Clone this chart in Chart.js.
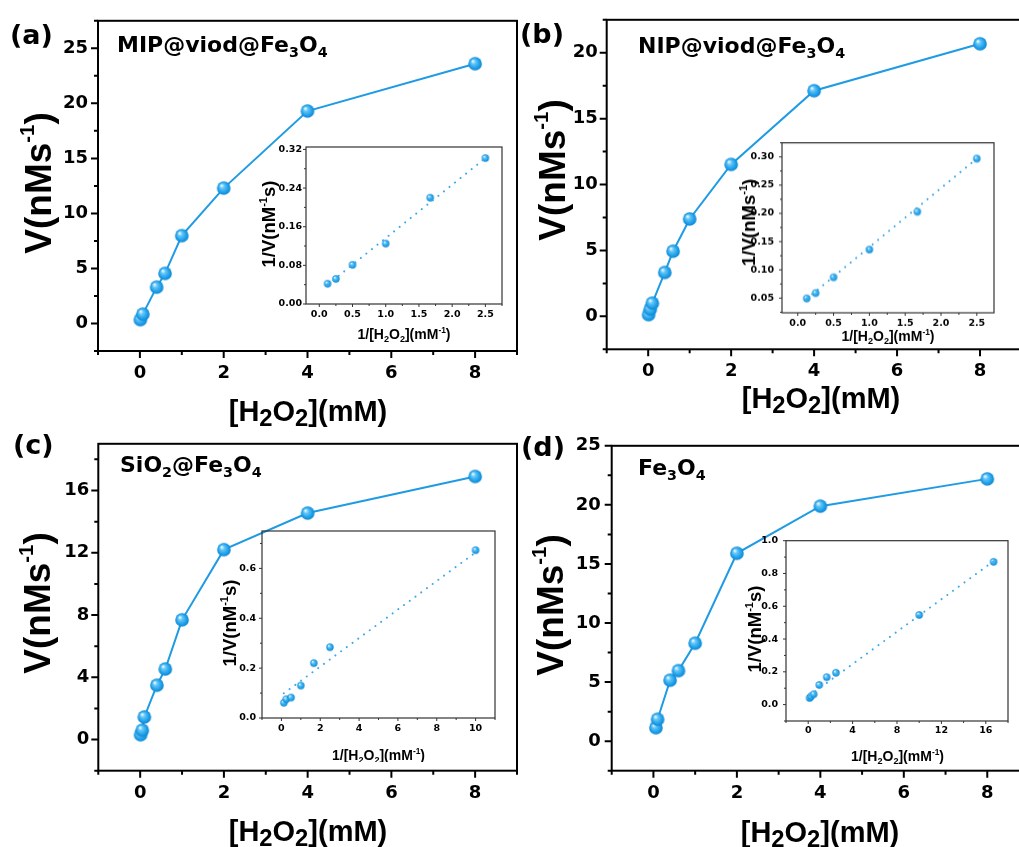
<!DOCTYPE html>
<html>
<head>
<meta charset="utf-8">
<script src="https://cdn.jsdelivr.net/npm/chart.js@4.4.1/dist/chart.umd.min.js"></script>
<style>
  html, body { margin: 0; padding: 0; background: #fff; overflow: hidden; width: 1019px; height: 847px; }
  #fig { position: relative; width: 1019px; height: 847px; overflow: hidden; background: #fff; }
  canvas { position: absolute; }
</style>
</head>
<body>
<div id="fig"></div>
<script>
// ---- main curves: V vs [H2O2] (mM) ----
const aConc = [0.01, 0.07, 0.4, 0.6, 1, 2, 4, 8];
const aRate = [0.35, 0.85, 3.3, 4.55, 7.98, 12.3, 19.3, 23.6];
const bConc = [0.01, 0.05, 0.1, 0.4, 0.6, 1, 2, 4, 8];
const bRate = [0.13, 0.55, 1.0, 3.33, 4.94, 7.39, 11.53, 17.12, 20.68];
const cConc = [0.01, 0.05, 0.1, 0.4, 0.6, 1, 2, 4, 8];
const cRate = [0.31, 0.6, 1.45, 3.49, 4.53, 7.69, 12.2, 14.55, 16.9];
const dConc = [0.06, 0.1, 0.4, 0.6, 1, 2, 4, 8];
const dRate = [1.14, 1.85, 5.16, 5.97, 8.29, 15.9, 19.89, 22.2];

// ---- insets: Lineweaver-Burk ----
const aInvC = [0.125, 0.25, 0.5, 1, 1.67, 2.5];
const aInvV = [0.042, 0.052, 0.081, 0.125, 0.22, 0.302];
const aFitX = [0.125, 2.5];
const aFitY = [0.040, 0.302];
const bInvC = [0.125, 0.25, 0.5, 1, 1.67, 2.5];
const bInvV = [0.0495, 0.059, 0.087, 0.136, 0.203, 0.297];
const bFitX = [0.125, 2.5];
const bFitY = [0.049, 0.297];
const cInvC = [0.125, 0.25, 0.5, 1, 1.67, 2.5, 10];
const cInvV = [0.061, 0.075, 0.082, 0.13, 0.22, 0.284, 0.673];
const cFitX = [0.125, 10];
const cFitY = [0.099, 0.664];
const dInvC = [0.125, 0.25, 0.5, 1, 1.67, 2.5, 10, 16.7];
const dInvV = [0.040, 0.050, 0.063, 0.12, 0.167, 0.194, 0.547, 0.871];
const dFitX = [0.125, 16.7];
const dFitY = [0.056, 0.875];

// ---- tick values / labels ----
const mainXTicks = [0, 2, 4, 6, 8];
const mainXLabels = ['0', '2', '4', '6', '8'];
const aYTicks = [0, 5, 10, 15, 20, 25];
const aYLabels = ['0', '5', '10', '15', '20', '25'];
const bYTicks = [0, 5, 10, 15, 20];
const bYLabels = ['0', '5', '10', '15', '20'];
const cYTicks = [0, 4, 8, 12, 16];
const cYLabels = ['0', '4', '8', '12', '16'];
const dYTicks = [0, 5, 10, 15, 20, 25];
const dYLabels = ['0', '5', '10', '15', '20', '25'];

const abInsetXTicks = [0, 0.5, 1, 1.5, 2, 2.5];
const abInsetXLabels = ['0.0', '0.5', '1.0', '1.5', '2.0', '2.5'];
const aInsetYTicks = [0, 0.08, 0.16, 0.24, 0.32];
const aInsetYLabels = ['0.00', '0.08', '0.16', '0.24', '0.32'];
const bInsetYTicks = [0.05, 0.10, 0.15, 0.20, 0.25, 0.30];
const bInsetYLabels = ['0.05', '0.10', '0.15', '0.20', '0.25', '0.30'];
const cInsetXTicks = [0, 2, 4, 6, 8, 10];
const cInsetXLabels = ['0', '2', '4', '6', '8', '10'];
const cInsetYTicks = [0, 0.2, 0.4, 0.6];
const cInsetYLabels = ['0.0', '0.2', '0.4', '0.6'];
const dInsetXTicks = [0, 4, 8, 12, 16];
const dInsetXLabels = ['0', '4', '8', '12', '16'];
const dInsetYTicks = [0, 0.2, 0.4, 0.6, 0.8, 1.0];
const dInsetYLabels = ['0.0', '0.2', '0.4', '0.6', '0.8', '1.0'];

const BLUE = '#1f9be4';
const TICKFONT = '"DejaVu Sans"';
const TITLEFONT = '"Liberation Sans", Arial';
const fig = document.getElementById('fig');

function ball(r) {
  const c = document.createElement('canvas');
  const s = Math.ceil(r * 2) + 2;
  c.width = c.height = s;
  const g = c.getContext('2d');
  const cx = s / 2, cy = s / 2;
  const grd = g.createRadialGradient(cx - r * 0.35, cy - r * 0.4, r * 0.05, cx, cy, r);
  grd.addColorStop(0, '#f2fbff');
  grd.addColorStop(0.3, '#62c6f8');
  grd.addColorStop(0.75, '#1e9ee8');
  grd.addColorStop(1, '#0e86d2');
  g.fillStyle = grd;
  g.beginPath();
  g.arc(cx, cy, r, 0, Math.PI * 2);
  g.fill();
  return c;
}
const bigBall = ball(6.8);
const smallBall = ball(3.7);

function pts(xs, ys) {
  return xs.map((x, i) => ({ x: x, y: ys[i] }));
}

function minors(vals, min, max) {
  const step = vals[1] - vals[0];
  const out = [];
  for (let v = vals[0] - step / 2; v >= min; v -= step) out.push(v);
  for (let v = vals[0] + step / 2; v <= max; v += step) out.push(v);
  return out;
}

// rich text: parts = [[text, kind]] kind 0 normal, 1 subscript, 2 superscript
function rich(ctx, t, ox, oy) {
  const F = t.size;
  const spec = k => k === 1 ? { s: F * (t.subS || 0.65), dy: F * (t.subD || 0.22) }
    : k === 2 ? { s: F * (t.supS || 0.6), dy: -F * (t.supD || 0.42) } : { s: F, dy: 0 };
  let w = 0;
  t.parts.forEach(p => {
    const s = spec(p[1] || 0);
    ctx.font = 'bold ' + s.s + 'px ' + t.fam;
    w += ctx.measureText(p[0]).width;
  });
  ctx.save();
  ctx.translate(t.x - ox, t.y - oy);
  if (t.rot) ctx.rotate(-Math.PI / 2);
  ctx.fillStyle = '#000';
  ctx.textAlign = 'left';
  ctx.textBaseline = 'alphabetic';
  let x = t.align === 'left' ? 0 : -w / 2;
  t.parts.forEach(p => {
    const s = spec(p[1] || 0);
    ctx.font = 'bold ' + s.s + 'px ' + t.fam;
    ctx.fillText(p[0], x, s.dy);
    x += ctx.measureText(p[0]).width;
  });
  ctx.restore();
}

function axis(min, max, vals, labels, font, pad, fit) {
  return {
    type: 'linear', min: min, max: max,
    afterBuildTicks: s => { s.ticks = vals.map(v => ({ value: v })); },
    afterFit: fit,
    grid: { display: false, drawTicks: false },
    border: { display: false },
    ticks: { autoSkip: false, maxRotation: 0, minRotation: 0, padding: pad, color: '#000', font: font,
      callback: (v, i) => labels[i] }
  };
}

function decor(o, cl, ct) {
  return {
    id: 'decor',
    beforeDatasetsDraw(chart) {
      const ctx = chart.ctx, a = chart.chartArea, x = chart.scales.x, y = chart.scales.y;
      ctx.save();
      ctx.strokeStyle = o.frameColor;
      ctx.lineWidth = o.frameW;
      ctx.strokeRect(a.left, a.top, a.right - a.left, a.bottom - a.top);
      ctx.lineWidth = o.tickW;
      ctx.beginPath();
      const tx = (v, len) => { const p = x.getPixelForValue(v); ctx.moveTo(p, a.bottom); ctx.lineTo(p, a.bottom + len); };
      const ty = (v, len) => { const p = y.getPixelForValue(v); ctx.moveTo(a.left, p); ctx.lineTo(a.left - len, p); };
      o.xTicks.forEach(v => tx(v, o.tickLen));
      o.yTicks.forEach(v => ty(v, o.tickLen));
      minors(o.xTicks, o.xMin, o.xMax).forEach(v => tx(v, o.minorLen));
      minors(o.yTicks, o.yMin, o.yMax).forEach(v => ty(v, o.minorLen));
      ctx.stroke();
      ctx.restore();
    },
    afterDraw(chart) {
      (o.texts || []).forEach(t => rich(chart.ctx, t, cl, ct));
    }
  };
}

function build(o) {
  const cv = document.createElement('canvas');
  const cl = o.rect[0], ct = o.rect[1], cw = o.rect[2], ch = o.rect[3];
  cv.width = cw; cv.height = ch;
  cv.style.left = cl + 'px'; cv.style.top = ct + 'px';
  cv.style.width = cw + 'px'; cv.style.height = ch + 'px';
  fig.appendChild(cv);
  const al = o.area[0], at = o.area[1], ar = o.area[2], ab = o.area[3];
  const padL = 2, padB = 2;
  const yW = al - cl - padL;
  const xH = (ct + ch) - ab - padB;
  new Chart(cv, {
    type: 'scatter',
    data: { datasets: o.datasets },
    options: {
      responsive: false, animation: false, devicePixelRatio: 1,
      layout: { padding: { left: padL, top: at - ct, right: (cl + cw) - ar, bottom: padB } },
      plugins: { legend: { display: false }, tooltip: { enabled: false } },
      scales: {
        x: axis(o.xMin, o.xMax, o.xTicks, o.xLabels, o.tickFont, o.xPad, s => { s.height = xH; }),
        y: axis(o.yMin, o.yMax, o.yTicks, o.yLabels, o.tickFont, o.yPad, s => { s.width = yW; })
      }
    },
    plugins: [decor(o, cl, ct)]
  });
}

function mainSet(xs, ys) {
  return [{ data: pts(xs, ys), showLine: true, borderColor: BLUE, borderWidth: 2,
    pointStyle: bigBall, pointRadius: 7, backgroundColor: BLUE }];
}
function insetSets(xs, ys, fx, fy) {
  return [
    { data: pts(fx, fy), showLine: true, borderColor: '#3aa8ea', borderWidth: 2, borderDash: [0.1, 7],
      borderCapStyle: 'round', pointRadius: 0 },
    { data: pts(xs, ys), showLine: false, pointStyle: smallBall, pointRadius: 4 }
  ];
}

const mainStyle = { frameColor: '#000', frameW: 2, tickW: 2, tickLen: 7, minorLen: 4,
  tickFont: { family: TICKFONT, size: 18, weight: 'bold' } };
const insetStyle = { frameColor: '#333', frameW: 1.2, tickW: 1, tickLen: 3, minorLen: 2,
  tickFont: { family: TICKFONT, size: 9.5, weight: 'bold' } };

const hTitle = [['[H'], ['2', 1], ['O'], ['2', 1], ['](mM)']];
const vTitle = [['V(nMs'], ['-1', 2], [')']];
const ivTitle = [['1/V(nM'], ['-1', 2], ['s)']];
const ivTitleB = [['1/V(nMs'], ['-1', 2], [')']];
const icTitle = [['1/[H'], ['2', 1], ['O'], ['2', 1], ['](mM'], ['-1', 2], [')']];

function mainTexts(p) {
  return [
    { parts: [[p.tag]], x: p.tagX, y: p.tagY, size: 27, fam: TICKFONT, align: 'left' },
    { parts: p.sample, x: p.sx, y: p.sy, size: 22, fam: TICKFONT, align: 'left', subS: 0.65, subD: 0.22 },
    { parts: vTitle, x: p.vx, y: p.vy, size: 37, fam: TITLEFONT, rot: true, supS: 0.55, supD: 0.45 },
    { parts: hTitle, x: p.hx, y: p.hy, size: 29, fam: TITLEFONT, subS: 0.82, subD: 0.16 }
  ];
}
function insetTexts(p) {
  return [
    { parts: p.vt, x: p.vx, y: p.vy, size: 18.5, fam: TITLEFONT, rot: true, supS: 0.6, supD: 0.42 },
    { parts: icTitle, x: p.hx, y: p.hy, size: 14, fam: TITLEFONT, subS: 0.65, subD: 0.22, supS: 0.6, supD: 0.42 }
  ];
}

// ---- panel (a) ----
build(Object.assign({}, mainStyle, {
  rect: [0, 0, 530, 428], area: [98, 14, 517, 351],
  xMin: -1, xMax: 9, yMin: -2.5, yMax: 27.5,
  xTicks: mainXTicks, xLabels: mainXLabels, yTicks: aYTicks, yLabels: aYLabels, xPad: 12, yPad: 10,
  datasets: mainSet(aConc, aRate),
  texts: mainTexts({ tag: '(a)', tagX: 10, tagY: 44, sample: [['MIP@viod@Fe'], ['3', 1], ['O'], ['4', 1]],
    sx: 117, sy: 52, vx: 50.5, vy: 183, hx: 308, hy: 421 })
}));
// ---- panel (b) ----
build(Object.assign({}, mainStyle, {
  rect: [510, 0, 530, 428], area: [606.7, 15, 1021.5, 349.3],
  xMin: -1, xMax: 9, yMin: -2.5, yMax: 22.5,
  xTicks: mainXTicks, xLabels: mainXLabels, yTicks: bYTicks, yLabels: bYLabels, xPad: 11, yPad: 9,
  datasets: mainSet(bConc, bRate),
  texts: mainTexts({ tag: '(b)', tagX: 520, tagY: 43, sample: [['NIP@viod@Fe'], ['3', 1], ['O'], ['4', 1]],
    sx: 638, sy: 53, vx: 565, vy: 170, hx: 821, hy: 408 })
}));
// ---- panel (c) ----
build(Object.assign({}, mainStyle, {
  rect: [0, 424, 530, 423], area: [98.3, 434, 517, 770.7],
  xMin: -1, xMax: 9, yMin: -2, yMax: 19,
  xTicks: mainXTicks, xLabels: mainXLabels, yTicks: cYTicks, yLabels: cYLabels, xPad: 12, yPad: 9,
  datasets: mainSet(cConc, cRate),
  texts: mainTexts({ tag: '(c)', tagX: 13, tagY: 454, sample: [['SiO'], ['2', 1], ['@Fe'], ['3', 1], ['O'], ['4', 1]],
    sx: 120, sy: 472, vx: 50, vy: 603, hx: 308, hy: 841 })
}));
// ---- panel (d) ----
build(Object.assign({}, mainStyle, {
  rect: [510, 424, 530, 423], area: [611.7, 434, 1029, 770.7],
  xMin: -1, xMax: 9, yMin: -2.5, yMax: 25,
  xTicks: mainXTicks, xLabels: mainXLabels, yTicks: dYTicks, yLabels: dYLabels, xPad: 12, yPad: 11,
  datasets: mainSet(dConc, dRate),
  texts: mainTexts({ tag: '(d)', tagX: 521, tagY: 456, sample: [['Fe'], ['3', 1], ['O'], ['4', 1]],
    sx: 638, sy: 475, vx: 563, vy: 605, hx: 820, hy: 842 })
}));

// ---- insets ----
function insetRect(area) {
  return [area[0] - 58, area[1] - 12, (area[2] - area[0]) + 58 + 12, (area[3] - area[1]) + 12 + 44];
}
const aArea = [306, 147, 502, 304];
build(Object.assign({}, insetStyle, {
  rect: insetRect(aArea), area: aArea,
  xMin: -0.2, xMax: 2.75, yMin: 0, yMax: 0.325,
  xTicks: abInsetXTicks, xLabels: abInsetXLabels, yTicks: aInsetYTicks, yLabels: aInsetYLabels, xPad: 5, yPad: 4,
  datasets: insetSets(aInvC, aInvV, aFitX, aFitY),
  texts: insetTexts({ vt: ivTitle, vx: 275, vy: 224, hx: 404, hy: 339 })
}));
const bArea = [782, 141, 994, 312.5];
build(Object.assign({}, insetStyle, {
  rect: insetRect(bArea), area: bArea,
  xMin: -0.22, xMax: 2.74, yMin: 0.024, yMax: 0.325,
  xTicks: abInsetXTicks, xLabels: abInsetXLabels, yTicks: bInsetYTicks, yLabels: bInsetYLabels, xPad: 5, yPad: 8,
  datasets: insetSets(bInvC, bInvV, bFitX, bFitY),
  texts: insetTexts({ vt: ivTitleB, vx: 755, vy: 222, hx: 888, hy: 340 })
}));
const cArea = [261.5, 531, 494.5, 718.3];
build(Object.assign({}, insetStyle, {
  rect: insetRect(cArea), area: cArea,
  xMin: -1, xMax: 11, yMin: 0, yMax: 0.75,
  xTicks: cInsetXTicks, xLabels: cInsetXLabels, yTicks: cInsetYTicks, yLabels: cInsetYLabels, xPad: 5, yPad: 6,
  datasets: insetSets(cInvC, cInvV, cFitX, cFitY),
  texts: insetTexts({ vt: ivTitle, vx: 235, vy: 623, hx: 378, hy: 760 })
}));
const dArea = [785.5, 539, 1008.3, 721];
build(Object.assign({}, insetStyle, {
  rect: insetRect(dArea), area: dArea,
  xMin: -2, xMax: 18, yMin: -0.1, yMax: 1.0,
  xTicks: dInsetXTicks, xLabels: dInsetXLabels, yTicks: dInsetYTicks, yLabels: dInsetYLabels, xPad: 4, yPad: 8,
  datasets: insetSets(dInvC, dInvV, dFitX, dFitY),
  texts: insetTexts({ vt: ivTitle, vx: 760, vy: 629, hx: 897, hy: 761 })
}));
</script>
</body>
</html>
